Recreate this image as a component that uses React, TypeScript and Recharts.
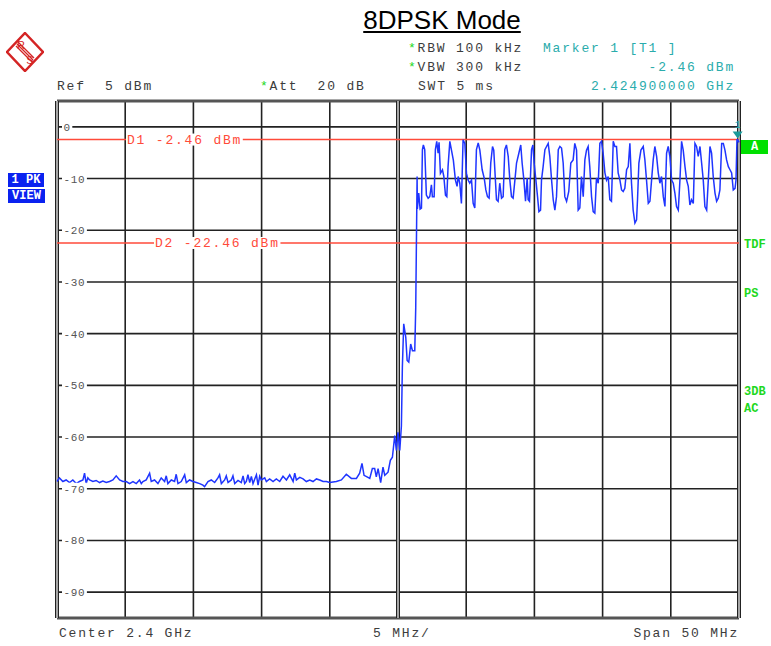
import React from 'react';
import {
  LineChart,
  Line,
  XAxis,
  YAxis,
  CartesianGrid,
  ReferenceLine,
  ReferenceDot
} from 'recharts';

// trace: frequency in MHz, level in dBm
const traceFreqMHz = [
  2375.00, 2375.18, 2375.43, 2375.67, 2375.92, 2376.16, 2376.41, 2376.65, 2376.90, 2377.02,
  2377.14, 2377.26, 2377.39, 2377.63, 2377.87, 2378.12, 2378.36, 2378.61, 2378.85, 2379.10,
  2379.34, 2379.59, 2379.83, 2380.08, 2380.32, 2380.57, 2380.81, 2381.05, 2381.18, 2381.30,
  2381.54, 2381.79, 2381.91, 2382.15, 2382.40, 2382.64, 2382.89, 2383.01, 2383.13, 2383.38,
  2383.62, 2383.74, 2383.87, 2384.11, 2384.36, 2384.48, 2384.72, 2384.97, 2385.21, 2385.46,
  2385.70, 2385.82, 2386.07, 2386.31, 2386.56, 2386.80, 2386.92, 2387.05, 2387.29, 2387.41,
  2387.54, 2387.78, 2387.90, 2388.03, 2388.27, 2388.51, 2388.64, 2388.76, 2388.88, 2389.00,
  2389.13, 2389.25, 2389.37, 2389.62, 2389.74, 2389.86, 2389.98, 2390.23, 2390.35, 2390.59,
  2390.84, 2391.08, 2391.33, 2391.57, 2391.82, 2392.06, 2392.31, 2392.43, 2392.55, 2392.80,
  2393.04, 2393.28, 2393.53, 2393.77, 2394.02, 2394.26, 2394.51, 2394.75, 2394.99, 2395.48,
  2395.85, 2396.21, 2396.58, 2396.95, 2397.19, 2397.36, 2397.51, 2397.73, 2397.93, 2398.12,
  2398.29, 2398.41, 2398.54, 2398.73, 2398.90, 2399.03, 2399.27, 2399.44, 2399.59, 2399.76,
  2399.88, 2400.00, 2400.13, 2400.25, 2400.32, 2400.42, 2400.57, 2400.67, 2400.79, 2400.93,
  2401.06, 2401.23, 2401.30, 2401.36, 2401.40, 2401.42, 2401.52, 2401.62, 2401.72, 2401.79,
  2401.86, 2401.96, 2402.08, 2402.21, 2402.33, 2402.45, 2402.52, 2402.65, 2402.74, 2402.84,
  2402.94, 2403.01, 2403.11, 2403.26, 2403.36, 2403.48, 2403.58, 2403.67, 2403.80, 2403.92,
  2404.06, 2404.21, 2404.33, 2404.41, 2404.53, 2404.65, 2404.77, 2404.90, 2405.02, 2405.14,
  2405.26, 2405.39, 2405.51, 2405.63, 2405.75, 2405.88, 2406.00, 2406.17, 2406.32, 2406.44,
  2406.56, 2406.68, 2406.80, 2406.93, 2407.02, 2407.10, 2407.22, 2407.34, 2407.46, 2407.59,
  2407.71, 2407.83, 2407.95, 2408.08, 2408.20, 2408.32, 2408.44, 2408.57, 2408.69, 2408.86,
  2409.00, 2409.10, 2409.23, 2409.35, 2409.47, 2409.54, 2409.64, 2409.79, 2409.89, 2409.98,
  2410.11, 2410.23, 2410.33, 2410.45, 2410.52, 2410.64, 2410.77, 2410.89, 2411.01, 2411.13,
  2411.26, 2411.38, 2411.50, 2411.62, 2411.75, 2411.87, 2411.99, 2412.11, 2412.23, 2412.36,
  2412.52, 2412.67, 2412.84, 2412.96, 2413.09, 2413.21, 2413.33, 2413.45, 2413.58, 2413.70,
  2413.82, 2413.94, 2414.06, 2414.19, 2414.31, 2414.43, 2414.55, 2414.68, 2414.80, 2414.92,
  2415.04, 2415.17, 2415.29, 2415.41, 2415.53, 2415.65, 2415.78, 2415.90, 2416.02, 2416.14,
  2416.27, 2416.39, 2416.51, 2416.63, 2416.76, 2416.88, 2417.00, 2417.12, 2417.24, 2417.37,
  2417.49, 2417.56, 2417.66, 2417.81, 2417.98, 2418.10, 2418.22, 2418.35, 2418.47, 2418.59,
  2418.71, 2418.83, 2418.96, 2419.08, 2419.20, 2419.32, 2419.45, 2419.57, 2419.69, 2419.81,
  2419.93, 2420.06, 2420.18, 2420.30, 2420.42, 2420.55, 2420.67, 2420.79, 2420.91, 2421.04,
  2421.16, 2421.28, 2421.40, 2421.52, 2421.65, 2421.77, 2421.89, 2422.01, 2422.14, 2422.26,
  2422.38, 2422.50, 2422.63, 2422.75, 2422.87, 2422.99, 2423.11, 2423.24, 2423.36, 2423.48,
  2423.60, 2423.73, 2423.85, 2423.97, 2424.09, 2424.22, 2424.34, 2424.46, 2424.58, 2424.71,
  2424.78, 2424.85, 2424.90, 2425.00
];

const traceLevelDbm = [
  -68.6, -67.9, -68.6, -68.3, -68.8, -68.3, -69.0, -68.6, -68.3, -67.0,
  -69.0, -67.9, -68.3, -68.6, -68.4, -68.8, -68.5, -68.8, -68.6, -68.3,
  -67.5, -68.3, -68.6, -68.6, -69.0, -68.6, -69.0, -68.3, -69.0, -68.6,
  -68.3, -67.0, -68.6, -68.3, -69.0, -67.9, -68.6, -67.5, -69.0, -68.3,
  -68.6, -67.2, -69.0, -68.6, -67.3, -68.8, -68.3, -68.6, -68.8, -69.0,
  -69.3, -69.6, -68.6, -68.3, -68.8, -67.9, -67.3, -69.0, -68.3, -67.5,
  -68.8, -68.3, -67.5, -69.0, -68.4, -68.8, -67.5, -69.0, -68.6, -67.3,
  -68.8, -67.6, -69.0, -67.3, -69.3, -67.6, -68.3, -67.9, -68.6, -68.1,
  -68.6, -68.1, -68.6, -67.6, -68.3, -67.3, -68.6, -67.0, -68.3, -67.8,
  -68.1, -68.6, -68.3, -68.6, -68.1, -68.3, -68.6, -68.6, -68.8, -68.6,
  -68.3, -67.2, -68.0, -68.0, -67.0, -65.1, -67.4, -67.7, -68.0, -66.1,
  -66.1, -67.7, -66.1, -68.8, -65.8, -67.4, -66.8, -64.5, -63.9, -59.7,
  -62.6, -59.1, -62.6, -57.8, -46.5, -38.1, -40.7, -45.2, -45.5, -42.0,
  -43.3, -43.3, -35.0, -20.0, -9.6, -15.9, -12.8, -15.9, -15.7, -4.4,
  -3.5, -4.4, -13.2, -13.8, -13.5, -11.2, -13.5, -13.5, -4.4, -2.8,
  -5.1, -3.0, -9.0, -8.3, -9.6, -13.2, -13.5, -7.7, -2.8, -4.5,
  -6.5, -10.3, -11.5, -9.6, -10.9, -14.8, -2.5, -3.2, -9.0, -10.3,
  -10.9, -10.3, -14.8, -15.7, -4.4, -3.1, -4.5, -8.3, -9.9, -12.2,
  -13.5, -13.8, -7.0, -3.8, -4.5, -8.3, -14.1, -14.4, -10.9, -13.8,
  -13.5, -4.4, -3.5, -5.7, -10.3, -13.5, -13.8, -10.3, -7.0, -5.1,
  -3.5, -7.0, -10.3, -14.4, -9.9, -14.1, -14.4, -4.4, -3.5, -7.0,
  -10.3, -13.5, -16.4, -16.1, -10.3, -7.7, -4.4, -3.8, -3.2, -5.7,
  -10.3, -14.1, -16.1, -13.5, -4.4, -3.8, -4.1, -7.0, -13.5, -14.4,
  -12.5, -7.0, -6.4, -3.2, -4.5, -16.1, -15.7, -9.6, -13.5, -6.4,
  -4.5, -3.8, -7.7, -13.5, -16.4, -16.7, -9.9, -10.9, -3.2, -2.8,
  -5.1, -8.9, -10.3, -9.6, -14.1, -14.4, -2.8, -3.8, -3.8, -8.9,
  -10.3, -12.2, -12.5, -11.9, -8.3, -7.7, -3.2, -10.9, -16.1, -18.6,
  -18.0, -14.1, -7.0, -4.5, -3.8, -6.4, -10.3, -14.8, -14.4, -10.3,
  -6.4, -3.8, -5.7, -8.9, -10.9, -9.6, -13.5, -15.4, -5.1, -3.8,
  -5.7, -10.3, -10.9, -12.8, -15.4, -16.1, -10.3, -2.8, -4.5, -7.7,
  -10.3, -11.5, -15.1, -14.1, -14.8, -3.2, -3.8, -5.7, -3.8, -7.0,
  -10.3, -15.4, -16.1, -10.3, -3.8, -5.1, -9.6, -12.8, -14.4, -13.8,
  -12.2, -3.2, -3.2, -4.5, -6.4, -7.7, -8.3, -8.9, -12.2, -11.9,
  -10.3, -2.5, -2.46, -3.0
];

const levelTicks = [0, -10, -20, -30, -40, -50, -60, -70, -80, -90];
const freqTicks = [2380, 2385, 2390, 2395, 2405, 2410, 2415, 2420];
const freqRange = [2375, 2425];
const levelRange = [-95, 5];

const displayLines = [
  { name: 'D1', level: -2.46, labelOffset: 70 },
  { name: 'D2', level: -22.46, labelOffset: 98 }
];
const marker = { freq: 2424.9, level: -2.46 };

const traceData = traceFreqMHz.map((f, i) => ({ freq: f, level: traceLevelDbm[i] }));

const MONO = '"Liberation Mono", "DejaVu Sans Mono", monospace';
const GREY_TEXT = '#3c3c3c';
const TEAL = '#2aacac';
const GREEN = '#1ed81e';
const RED = '#ff4a3a';
const GRID = '#222';

const LevelTick = (props: any) => {
  const { x, y, payload } = props;
  const label = String(payload.value);
  const w = label.length * 7.3 + 3;
  return (
    <g>
      <rect x={x + 5} y={y - 6} width={w} height={12} fill="#fff" />
      <text
        x={x + 6.5}
        y={y + 4}
        fontFamily={MONO}
        fontSize={11}
        letterSpacing={0.7}
        fill="#555"
      >
        {label}
      </text>
    </g>
  );
};

const DisplayLineLabel = (props: any) => {
  const { viewBox, text, dx } = props;
  const w = text.length * 9.65;
  return (
    <g>
      <rect x={viewBox.x + dx - 1} y={viewBox.y - 6} width={w + 1} height={12} fill="#fff" />
      <text
        x={viewBox.x + dx}
        y={viewBox.y + 4}
        fontFamily={MONO}
        fontSize={13}
        letterSpacing={1.8}
        fill={RED}
      >
        {text}
      </text>
    </g>
  );
};

const MarkerShape = (props: any) => {
  const { cx, cy } = props;
  return (
    <g>
      <polygon points={`${cx - 5},${cy - 8} ${cx + 5},${cy - 8} ${cx},${cy - 1}`} fill="#1a9a9a" />
      <text x={cx} y={cy - 12} textAnchor="middle" fontFamily={MONO} fontSize={10} fill={TEAL}>
        1
      </text>
    </g>
  );
};

const Txt: React.FC<{ left?: number; right?: number; top: number; color?: string; children: React.ReactNode }> = ({
  left,
  right,
  top,
  color,
  children
}) => (
  <div
    style={{
      position: 'absolute',
      left,
      right,
      top,
      fontFamily: MONO,
      fontSize: 13,
      letterSpacing: 1.8,
      lineHeight: 1,
      whiteSpace: 'pre',
      color: color || GREY_TEXT
    }}
  >
    {children}
  </div>
);

const Star = () => <span style={{ color: GREEN }}>*</span>;

const SideTag: React.FC<{ left: number; top: number; color: string; bg?: string; width?: number; children: React.ReactNode }> = ({
  left,
  top,
  color,
  bg,
  width,
  children
}) => (
  <div
    style={{
      position: 'absolute',
      left,
      top,
      width,
      height: bg ? 14 : undefined,
      background: bg,
      color,
      fontFamily: MONO,
      fontWeight: 'bold',
      fontSize: 12,
      lineHeight: bg ? '14px' : 1,
      textAlign: bg ? 'center' : 'left',
      whiteSpace: 'pre'
    }}
  >
    {children}
  </div>
);

const RSLogo = () => (
  <svg width={38} height={40} style={{ position: 'absolute', left: 6, top: 32 }} viewBox="0 0 38 40">
    <polygon points="19,1 37,20 19,39 1,20" fill="none" stroke="#d42424" strokeWidth={2.5} />
    <line x1={11} y1={12} x2={27} y2={28} stroke="#d42424" strokeWidth={1.2} />
    <line x1={10} y1={14} x2={26} y2={30} stroke="#d42424" strokeWidth={1.2} />
    <line x1={12} y1={10} x2={28} y2={26} stroke="#d42424" strokeWidth={1.2} />
    <text x={15} y={17} fontFamily="Liberation Sans, Arial" fontSize={11} fill="#d42424" textAnchor="middle">
      R
    </text>
    <text x={24} y={32} fontFamily="Liberation Sans, Arial" fontSize={11} fill="#d42424" textAnchor="middle">
      S
    </text>
  </svg>
);

export default function App() {
  return (
    <div style={{ position: 'absolute', left: 0, top: 0, width: 771, height: 646, background: '#fff' }}>
      <div
        style={{
          position: 'absolute',
          left: 342,
          width: 200,
          top: 7,
          textAlign: 'center',
          fontFamily: '"Liberation Sans", Arial, sans-serif',
          fontSize: 26,
          lineHeight: 1,
          textDecoration: 'underline',
          color: '#000'
        }}
      >
        8DPSK Mode
      </div>
      <RSLogo />

      <Txt left={408} top={42}>
        <Star />
        RBW 100 kHz
      </Txt>
      <Txt left={408} top={61}>
        <Star />
        VBW 300 kHz
      </Txt>
      <Txt left={418} top={80}>SWT 5 ms</Txt>
      <Txt left={57} top={80}>Ref  5 dBm</Txt>
      <Txt left={260} top={80}>
        <Star />
        Att  20 dB
      </Txt>
      <Txt left={543} top={42} color={TEAL}>Marker 1 [T1 ]</Txt>
      <Txt right={36} top={61} color={TEAL}>-2.46 dBm</Txt>
      <Txt right={36} top={80} color={TEAL}>2.424900000 GHz</Txt>

      <Txt left={59} top={627}>Center 2.4 GHz</Txt>
      <Txt left={373} top={627}>5 MHz/</Txt>
      <Txt right={32} top={627}>Span 50 MHz</Txt>

      <SideTag left={8} top={173} color="#fff" bg="#0a22f0" width={36}>1 PK</SideTag>
      <SideTag left={8} top={189} color="#fff" bg="#0a22f0" width={37}>VIEW</SideTag>

      <SideTag left={741} top={140} color="#fff" bg="#00e000" width={27}>A</SideTag>
      <SideTag left={744} top={239} color={GREEN}>TDF</SideTag>
      <SideTag left={744} top={288} color={GREEN}>PS</SideTag>
      <SideTag left={744} top={386} color={GREEN}>3DB</SideTag>
      <SideTag left={744} top={403} color={GREEN}>AC</SideTag>

      <div style={{ position: 'absolute', left: 0, top: 0 }}>
        <LineChart
          width={771}
          height={646}
          data={traceData}
          margin={{ top: 101, right: 32, bottom: 28, left: 57 }}
        >
          <CartesianGrid stroke={GRID} strokeWidth={1.6} vertical={false} />
          <XAxis
            dataKey="freq"
            type="number"
            domain={freqRange}
            ticks={freqTicks}
            height={0}
            tick={false}
            axisLine={false}
            tickLine={false}
          />
          <YAxis
            type="number"
            domain={levelRange}
            ticks={levelTicks}
            interval={0}
            mirror
            axisLine={false}
            tickLine={false}
            tickSize={0}
            tickMargin={0}
            tick={<LevelTick />}
          />
          {/* vertical divisions */}
          {freqTicks.map((f) => (
            <ReferenceLine key={'g' + f} x={f} stroke={GRID} strokeWidth={1.6} />
          ))}
          {/* frame */}
          <ReferenceLine y={5} stroke="#555" strokeWidth={3} />
          <ReferenceLine y={-95} stroke="#555" strokeWidth={3} />
          {[2375, 2400, 2425].map((f) => (
            <ReferenceLine key={'o' + f} x={f} stroke="#222" strokeWidth={4} />
          ))}
          {[2375, 2400, 2425].map((f) => (
            <ReferenceLine key={'i' + f} x={f} stroke="#fff" strokeWidth={1.2} />
          ))}
          {displayLines.map((d) => (
            <ReferenceLine
              key={d.name}
              y={d.level}
              stroke={RED}
              strokeWidth={1.5}
              label={<DisplayLineLabel text={`${d.name} ${d.level} dBm`} dx={d.labelOffset} />}
            />
          ))}
          <Line
            type="linear"
            dataKey="level"
            stroke="#1f35ff"
            strokeWidth={1.5}
            dot={false}
            isAnimationActive={false}
          />
          <ReferenceDot x={marker.freq} y={marker.level} shape={<MarkerShape />} />
        </LineChart>
      </div>
    </div>
  );
}
